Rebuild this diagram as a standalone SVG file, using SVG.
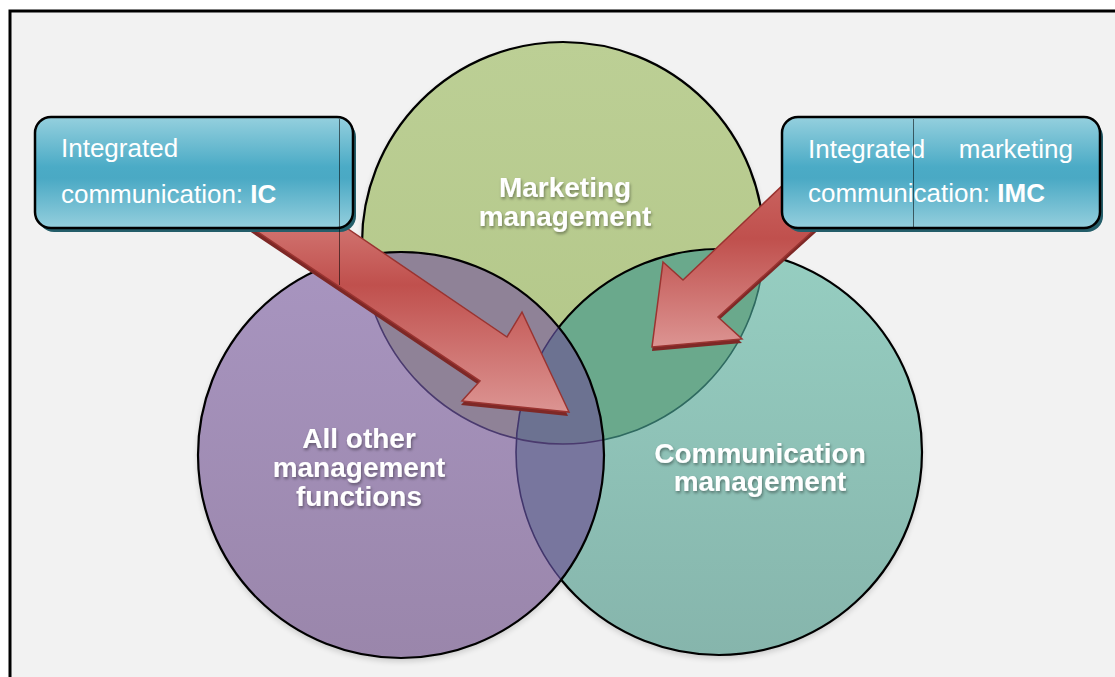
<svg xmlns="http://www.w3.org/2000/svg" width="1115" height="677" viewBox="0 0 1115 677">
<defs>
<style>
.lbl{font-family:"Liberation Sans",Arial,sans-serif;font-size:28px;font-weight:bold;fill:#ffffff;text-anchor:middle}
.box{font-family:"Liberation Sans",Arial,sans-serif;font-size:26px;fill:#ffffff}
.b{font-weight:bold}
.edge{fill:none;stroke:#000;stroke-width:2.2}
</style>
<linearGradient id="gG" x1="0" y1="0" x2="0" y2="1"><stop offset="0" stop-color="#bccf95"/><stop offset="1" stop-color="#b2c687"/></linearGradient>
<linearGradient id="gP" x1="0" y1="0" x2="0" y2="1"><stop offset="0" stop-color="#a895c0"/><stop offset="1" stop-color="#9a86ab"/></linearGradient>
<linearGradient id="gT" x1="0" y1="0" x2="0" y2="1"><stop offset="0" stop-color="#96cec1"/><stop offset="1" stop-color="#86b5ac"/></linearGradient>
<linearGradient id="gBox" x1="0" y1="0" x2="0" y2="1"><stop offset="0" stop-color="#95d0de"/><stop offset="0.45" stop-color="#4babc6"/><stop offset="0.55" stop-color="#4aa9c4"/><stop offset="1" stop-color="#95cfdd"/></linearGradient>
<linearGradient id="gA1" gradientUnits="userSpaceOnUse" x1="0" y1="200" x2="0" y2="412"><stop offset="0" stop-color="#d8827e"/><stop offset="0.4" stop-color="#c0504d"/><stop offset="1" stop-color="#dc9492"/></linearGradient>
<linearGradient id="gA2" gradientUnits="userSpaceOnUse" x1="0" y1="150" x2="0" y2="347"><stop offset="0" stop-color="#cf6d69"/><stop offset="0.45" stop-color="#c0504d"/><stop offset="1" stop-color="#dc9492"/></linearGradient>
<clipPath id="cG"><circle cx="563" cy="243" r="201"/></clipPath>
<clipPath id="cP"><circle cx="401" cy="455" r="203"/></clipPath>
<clipPath id="cT"><circle cx="719" cy="452" r="203"/></clipPath>
<filter id="ts" x="-20%" y="-30%" width="140%" height="160%"><feDropShadow dx="1" dy="2" stdDeviation="1.5" flood-color="#000" flood-opacity="0.4"/></filter>
<filter id="sh" x="-10%" y="-10%" width="120%" height="120%"><feGaussianBlur stdDeviation="3"/></filter>
</defs>
<rect width="1115" height="677" fill="#ffffff"/>
<rect x="10" y="11" width="1130" height="700" fill="#f2f2f2" stroke="#000" stroke-width="3"/>
<g id="shadows" fill="#000" opacity="0.18" filter="url(#sh)">
<circle cx="563" cy="246" r="201"/>
<circle cx="401" cy="458" r="203"/>
<circle cx="719" cy="455" r="203"/>
</g>
<g id="node-marketing">
<circle cx="563" cy="243" r="201" fill="url(#gG)" stroke="#000" stroke-width="2.2"/>
</g>
<g id="node-communication">
<circle cx="719" cy="452" r="203" fill="url(#gT)"/>
<circle cx="719" cy="452" r="203" fill="#6aa98c" clip-path="url(#cG)"/>
<circle cx="563" cy="243" r="201" fill="none" stroke="#2f6a60" stroke-width="1.6" clip-path="url(#cT)"/>
<circle cx="719" cy="452" r="203" class="edge"/>
</g>
<g id="node-other">
<circle cx="401" cy="455" r="203" fill="url(#gP)"/>
<circle cx="401" cy="455" r="203" fill="#8f8297" clip-path="url(#cG)"/>
<circle cx="401" cy="455" r="203" fill="#78769e" clip-path="url(#cT)"/>
<g clip-path="url(#cG)"><circle cx="401" cy="455" r="203" fill="#6c7291" clip-path="url(#cT)"/></g>
<circle cx="563" cy="243" r="201" fill="none" stroke="#4a3a6e" stroke-width="1.6" clip-path="url(#cP)"/>
<circle cx="719" cy="452" r="203" fill="none" stroke="#42366c" stroke-width="1.6" clip-path="url(#cP)"/>
<circle cx="401" cy="455" r="203" class="edge"/>
</g>
<g id="labels" filter="url(#ts)">
<text class="lbl" x="565" y="197">Marketing</text>
<text class="lbl" x="565" y="226">management</text>
<text class="lbl" x="359" y="448">All other</text>
<text class="lbl" x="359" y="477">management</text>
<text class="lbl" x="359" y="506">functions</text>
<text class="lbl" x="760" y="463">Communication</text>
<text class="lbl" x="760" y="491">management</text>
</g>
<g id="connectors">
<polygon points="306,205 506,341 521,316 568,416 461,405 479,385 221,212" fill="#7e2826"/>
<polygon points="307,201 507,337 522,312 569,412 462,401 480,381 222,208" fill="url(#gA1)" stroke="#9a3431" stroke-width="1.5" stroke-linejoin="miter"/>
<polygon points="826,148 683,284 663,266 652,351 742,343 718,321 856,196" fill="#7e2826"/>
<polygon points="826,144 683,280 663,262 652,347 742,339 718,317 856,192" fill="url(#gA2)" stroke="#9a3431" stroke-width="1.5" stroke-linejoin="miter"/>
</g>
<g id="node-ic">
<rect x="38" y="121" width="318" height="111" rx="16" fill="#245e6a"/>
<rect x="35" y="117" width="318" height="111" rx="16" fill="url(#gBox)" stroke="#000" stroke-width="2.5"/>
<text class="box" x="61" y="157">Integrated</text>
<text class="box" x="61" y="203">communication: <tspan class="b">IC</tspan></text>
</g>
<g id="node-imc">
<rect x="785" y="121" width="318" height="111" rx="16" fill="#245e6a"/>
<rect x="782" y="117" width="318" height="111" rx="16" fill="url(#gBox)" stroke="#000" stroke-width="2.5"/>
<text class="box" x="808" y="158">Integrated</text>
<text class="box" x="1073" y="158" text-anchor="end">marketing</text>
<text class="box" x="808" y="202">communication: <tspan class="b">IMC</tspan></text>
</g>
<g id="artifact-lines" stroke="#000" stroke-opacity="0.55" stroke-width="1">
<line x1="339.5" y1="119" x2="339.5" y2="285"/>
<line x1="913.5" y1="119" x2="913.5" y2="227"/>
</g>
</svg>
